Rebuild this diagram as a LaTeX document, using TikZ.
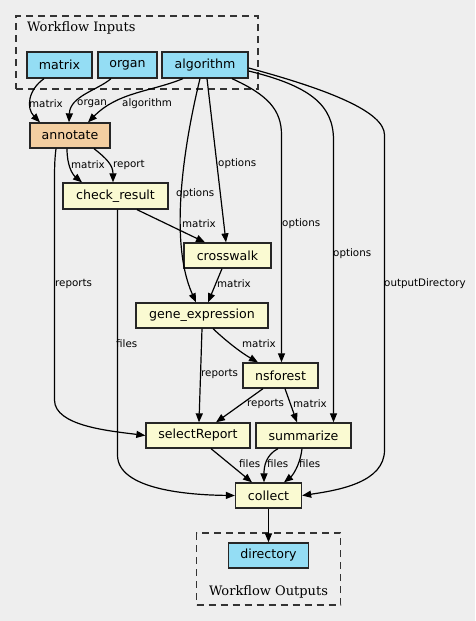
\documentclass[tikz,border=0pt]{standalone}
\usepackage{fontspec}
\setmainfont{DejaVu Sans}
\newfontfamily\clfont{DejaVu Serif}
\usetikzlibrary{arrows.meta,calc}
\definecolor{bg}{HTML}{EEEEEE}
\definecolor{inblue}{HTML}{94DDF4}
\definecolor{stepyel}{HTML}{FAFAD2}
\definecolor{subor}{HTML}{F3CEA1}
\tikzset{
  box/.style={draw=black!85,line width=1.3pt,inner sep=0pt,font=\fontsize{12.6}{14}\selectfont},
  inp/.style={box,fill=inblue},
  stp/.style={box,fill=stepyel},
  sub/.style={box,fill=subor},
  clus/.style={draw=black!80,line width=1.3pt,dash pattern=on 7pt off 5pt,inner sep=0pt},
  cltext/.style={font=\clfont\fontsize{13}{15}\selectfont,inner sep=0pt},
  lbl/.style={font=\fontsize{10.3}{12}\selectfont,inner sep=0pt,anchor=west},
  edge/.style={line width=1.2pt,-{Triangle[length=9pt,width=7pt]}}
}
\begin{document}
\begin{tikzpicture}[x=1pt,y=-1pt]
\fill[bg] (0,0) rectangle (475,621);
\useasboundingbox (0,0) rectangle (475,621);
% clusters
\node[clus,minimum width=242pt,minimum height=73pt] (cin) at (137,52.5) {};
\node[cltext,anchor=west] (cinl) at (27,28) {Workflow Inputs};
\node[clus,minimum width=144pt,minimum height=72pt] (cout) at (268.5,569) {};
\node[cltext] (coutl) at (268.5,592) {Workflow Outputs};
% nodes
\node[inp,minimum width=65pt,minimum height=26pt] (matrix) at (59.5,65) {matrix};
\node[inp,minimum width=59pt,minimum height=26pt] (organ) at (127.5,65) {organ};
\node[inp,minimum width=86pt,minimum height=26pt] (algorithm) at (205,65) {algorithm};
\node[sub,minimum width=80pt,minimum height=25pt] (annotate) at (70,135.5) {annotate};
\node[stp,minimum width=105pt,minimum height=26pt] (check) at (115.5,196) {check\_result};
\node[stp,minimum width=87pt,minimum height=25pt] (crosswalk) at (227.5,255.5) {crosswalk};
\node[stp,minimum width=132pt,minimum height=25pt] (gene) at (202,315.5) {gene\_expression};
\node[stp,minimum width=75pt,minimum height=25pt] (nsforest) at (280.5,375.5) {nsforest};
\node[stp,minimum width=104pt,minimum height=25pt] (select) at (198,435.5) {selectReport};
\node[stp,minimum width=95pt,minimum height=25pt] (summarize) at (303.5,435.5) {summarize};
\node[stp,minimum width=66pt,minimum height=25pt] (collect) at (268.5,495.5) {collect};
\node[inp,minimum width=80pt,minimum height=25pt] (directory) at (268.5,555.5) {directory};
% edges
\draw[edge] ($(matrix.south)+(-15.5,0)$) .. controls (28,90) and (26,108) .. ($(annotate.north)+(-30,0)$);
\draw[edge] ($(organ.south)+(-16.5,0)$) .. controls (98,90) and (70,96) .. ($(annotate.north)+(-1,0)$);
\draw[edge] ($(algorithm.south)+(-22,0)$) .. controls (150,92) and (118,92) .. ($(annotate.north)+(18,0)$);
\draw[edge] ($(annotate.south)+(-3,0)$) .. controls (67,165) and (72,174) .. ($(check.north)+(-33.5,0)$);
\draw[edge] ($(annotate.south)+(24,0)$) .. controls (106,158) and (113,165) .. ($(check.north)+(-2.5,0)$);
\draw[edge] ($(algorithm.south)+(2,0)$) -- ($(crosswalk.north)+(-1.5,0)$);
\draw[edge] ($(algorithm.south)+(-5,0)$) .. controls (185,140) and (168,240) .. ($(gene.north)+(-6,0)$);
\draw[edge] ($(algorithm.south)+(27,0)$) .. controls (268,95) and (281.5,110) .. (281.5,135) -- ($(nsforest.north)+(1,0)$);
\draw[edge] ($(algorithm.east)+(0,6)$) .. controls (310,86) and (333.5,105) .. (333.5,140) -- ($(summarize.north)+(30,0)$);
\draw[edge] ($(algorithm.east)+(0,3)$) .. controls (330,90) and (384.5,112) .. (384.5,135) -- (384.5,450) .. controls (384.5,482) and (340,490) .. (collect.east);
\draw[edge] ($(check.south)+(21.5,0)$) -- ($(crosswalk.north)+(-22.5,0)$);
\draw[edge] ($(check.south)+(2,0)$) -- (117.5,455) .. controls (117.5,490) and (190,495) .. (collect.west);
\draw[edge] ($(annotate.south)+(-14,0)$) .. controls (54.5,160) and (54.5,170) .. (54.5,185) -- (54.5,400) .. controls (54.5,426) and (110,431) .. (select.west);
\draw[edge] ($(crosswalk.south)+(-5.5,0)$) -- ($(gene.north)+(6,0)$);
\draw[edge] ($(gene.south)+(11,0)$) .. controls (225,340) and (240,352) .. ($(nsforest.north)+(-22.5,0)$);
\draw[edge] (gene.south) -- ($(select.north)+(1,0)$);
\draw[edge] ($(nsforest.south)+(-17.5,0)$) -- ($(select.north)+(18,0)$);
\draw[edge] ($(nsforest.south)+(4.5,0)$) -- ($(summarize.north)+(-6.5,0)$);
\draw[edge] ($(select.south)+(13,0)$) -- ($(collect.north)+(-16.5,0)$);
\draw[edge] ($(summarize.south)+(-25.5,0)$) .. controls (266,455) and (264,466) .. ($(collect.north)+(-4.5,0)$);
\draw[edge] ($(summarize.south)+(-1.5,0)$) .. controls (300,466) and (292,476) .. ($(collect.north)+(15.5,0)$);
\draw[edge] (collect) -- (directory);
% edge labels
\node[lbl] (l1) at (29,104) {matrix};
\node[lbl] (l2) at (77,104) {organ};
\node[lbl] (l3) at (122,104) {algorithm};
\node[lbl] (l4) at (71,165) {matrix};
\node[lbl] (l5) at (113,165) {report};
\node[lbl] (l6) at (218,164) {options};
\node[lbl] (l7) at (176,194) {options};
\node[lbl] (l8) at (282,224) {options};
\node[lbl] (l9) at (333,254) {options};
\node[lbl] (l10) at (384,284) {outputDirectory};
\node[lbl] (l11) at (182,224) {matrix};
\node[lbl] (l12) at (116,344) {files};
\node[lbl] (l13) at (55,284) {reports};
\node[lbl] (l14) at (217,284) {matrix};
\node[lbl] (l15) at (242,344) {matrix};
\node[lbl] (l16) at (201,374) {reports};
\node[lbl] (l17) at (247,404) {reports};
\node[lbl] (l18) at (293,404) {matrix};
\node[lbl] (l19) at (239,464) {files};
\node[lbl] (l20) at (267,464) {files};
\node[lbl] (l21) at (299,464) {files};
\end{tikzpicture}
\end{document}
